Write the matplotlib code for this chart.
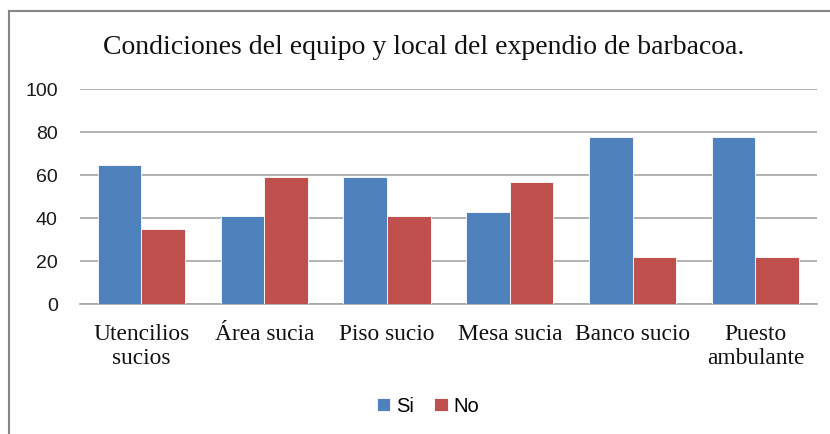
import matplotlib.pyplot as plt
import numpy as np
from matplotlib.lines import Line2D

categorias = ["Utencilios\nsucios", "Área sucia", "Piso sucio", "Mesa sucia", "Banco sucio", "Puesto\nambulante"]
si = [65, 41, 59, 43, 78, 78]
no = [35, 59, 41, 57, 22, 22]
ticks_y = [0, 20, 40, 60, 80, 100]

azul = "#4F81BD"
rojo = "#C0504D"
gris = "#A6A6A6"

fig = plt.figure(figsize=(8.3, 4.34), dpi=100)
ax = fig.add_axes([0.0964, 0.2989, 0.8876, 0.4953])

x = np.arange(len(categorias))
ancho = 0.355
ax.bar(x - ancho / 2, si, ancho, color=azul, edgecolor="white", linewidth=0.6, label="Si", zorder=3)
ax.bar(x + ancho / 2, no, ancho, color=rojo, edgecolor="white", linewidth=0.6, label="No", zorder=3)

ax.set_xlim(-0.5, len(categorias) - 0.5)
ax.set_ylim(0, 100)
ax.set_yticks(ticks_y)
ax.set_yticklabels([str(t) for t in ticks_y], fontsize=14, family="Liberation Sans", color="#1a1a1a")
ax.set_xticks(x)
ax.set_xticklabels(categorias, fontsize=16.8, family="Liberation Serif", color="#111111", linespacing=1.2)
ax.tick_params(axis="both", length=0)
ax.tick_params(axis="x", pad=14)
ax.tick_params(axis="y", pad=16)
ax.yaxis.grid(True, color=gris, linewidth=1.2, zorder=0)
for s in ["left", "right", "top"]:
    ax.spines[s].set_visible(False)
ax.spines["bottom"].set_color(gris)
ax.spines["bottom"].set_linewidth(1.2)

fig.text(0.511, 0.89, "Condiciones del equipo y local del expendio de barbacoa.",
         ha="center", va="center", fontsize=20, family="Liberation Serif", color="#111111")

leg = fig.legend(loc="center", bbox_to_anchor=(0.516, 0.064), ncol=2, frameon=False,
                 prop={"family": "Liberation Sans", "size": 14.5},
                 handlelength=0.65, handleheight=0.65, handletextpad=0.3, columnspacing=1.0)

# borde del recuadro del grafico (solo se ve arriba e izquierda)
fig.add_artist(Line2D([9 / 830, 9 / 830], [0, 1 - 11 / 434], transform=fig.transFigure, color="#868686", linewidth=1.5))
fig.add_artist(Line2D([9 / 830, 1], [1 - 11 / 434, 1 - 11 / 434], transform=fig.transFigure, color="#868686", linewidth=1.5))

fig.savefig("out.png", dpi=100)
